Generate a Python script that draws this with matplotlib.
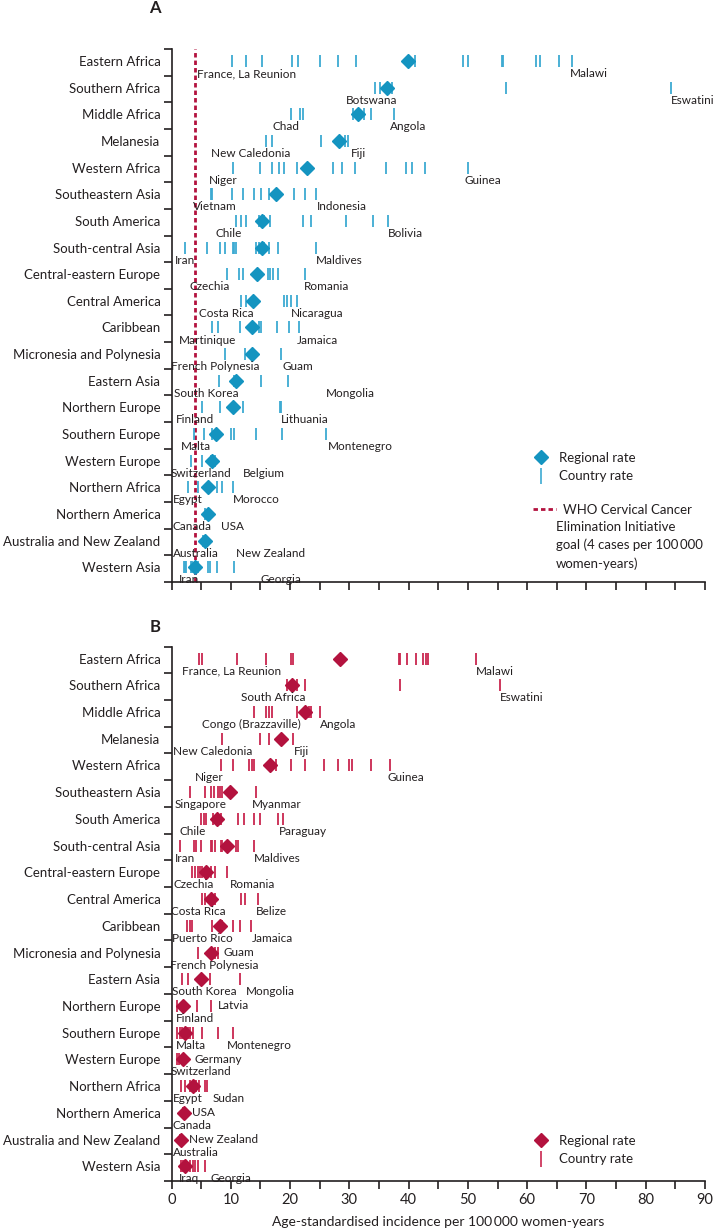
import matplotlib.pyplot as plt
from matplotlib.lines import Line2D

plt.rcParams['font.family'] = ['Lato', 'DejaVu Sans']

regions = ["Eastern Africa", "Southern Africa", "Middle Africa", "Melanesia",
           "Western Africa", "Southeastern Asia", "South America",
           "South-central Asia", "Central-eastern Europe", "Central America",
           "Caribbean", "Micronesia and Polynesia", "Eastern Asia",
           "Northern Europe", "Southern Europe", "Western Europe",
           "Northern Africa", "Northern America", "Australia and New Zealand",
           "Western Asia"]

# panel A: country and regional rates
a_country = [
    [10.2, 12.5, 15.2, 20.4, 21.3, 25.0, 28.1, 31.2, 41.0, 49.1, 50.0, 55.7, 55.9, 61.5, 62.2, 65.3, 67.6],
    [34.3, 35.1, 37.2, 56.5, 84.3],
    [20.1, 21.7, 22.2, 30.7, 32.5, 33.6, 37.5],
    [15.9, 17.0, 25.3, 29.2, 29.8],
    [10.4, 15.0, 16.9, 18.2, 18.9, 21.1, 27.2, 28.8, 31.0, 36.2, 39.5, 40.6, 42.7, 50.0],
    [6.6, 6.8, 10.2, 12.0, 13.9, 15.1, 16.4, 20.7, 22.5, 24.3],
    [10.9, 11.7, 12.5, 14.8, 15.6, 16.7, 22.2, 23.6, 29.4, 34.0, 36.5],
    [2.2, 6.0, 8.2, 9.0, 10.3, 10.5, 10.9, 14.2, 14.8, 15.6, 16.4, 18.0, 24.4],
    [9.3, 11.4, 12.1, 16.2, 16.7, 17.1, 17.9, 22.5],
    [11.7, 12.6, 19.0, 19.5, 20.2, 21.1],
    [6.8, 7.8, 11.5, 14.8, 15.1, 17.8, 19.8, 21.5],
    [9.0, 12.4, 18.5],
    [8.0, 10.5, 11.1, 15.1, 19.6],
    [5.1, 8.2, 12.0, 18.3, 18.5],
    [3.8, 5.4, 6.9, 10.1, 10.6, 14.3, 18.6, 26.1],
    [3.3, 5.1, 6.6, 7.3],
    [2.8, 4.4, 7.6, 8.6, 10.4],
    [5.7, 6.4],
    [5.3, 5.9],
    [2.1, 2.3, 2.5, 3.3, 3.5, 4.4, 6.2, 6.5, 7.7, 10.6],
]
a_regional = [39.9, 36.3, 31.5, 28.2, 22.8, 17.7, 15.3, 15.2, 14.4, 13.8,
              13.6, 13.5, 10.8, 10.4, 7.5, 6.9, 6.2, 6.1, 5.6, 4.0]
a_low = ["France, La Reunion", "Botswana", "Chad", "New Caledonia", "Niger",
         "Vietnam", "Chile", "Iran", "Czechia", "Costa Rica", "Martinique",
         "French Polynesia", "South Korea", "Finland", "Malta", "Switzerland",
         "Egypt", "Canada", "Australia", "Iran"]
a_high = ["Malawi", "Eswatini", "Angola", "Fiji", "Guinea", "Indonesia",
          "Bolivia", "Maldives", "Romania", "Nicaragua", "Jamaica", "Guam",
          "Mongolia", "Lithuania", "Montenegro", "Belgium", "Morocco", "USA",
          "New Zealand", "Georgia"]

# panel B: country and regional rates
b_country = [
    [4.7, 5.1, 11.1, 15.9, 20.1, 20.5, 38.4, 38.6, 39.8, 41.2, 42.5, 42.9, 43.3, 51.3],
    [19.5, 21.1, 22.5, 38.6, 55.4],
    [14.0, 15.9, 16.4, 16.9, 21.2, 23.2, 23.6, 25.0],
    [8.5, 14.9, 16.4, 20.5],
    [8.4, 10.4, 13.1, 13.5, 14.0, 17.6, 20.1, 22.5, 25.8, 28.1, 30.0, 30.4, 33.6, 36.9],
    [3.2, 5.6, 6.6, 7.2, 7.8, 8.2, 8.5, 14.2],
    [5.0, 5.4, 5.8, 7.0, 8.4, 11.3, 12.3, 13.9, 15.0, 17.9, 18.8],
    [1.4, 3.8, 4.1, 5.0, 6.6, 6.9, 7.4, 8.4, 8.6, 10.9, 11.2, 13.9],
    [3.4, 3.9, 4.5, 4.8, 5.2, 6.6, 7.3, 9.4],
    [5.2, 5.6, 7.4, 11.7, 12.4, 14.6],
    [2.6, 3.1, 3.5, 6.8, 8.6, 10.4, 11.6, 13.4],
    [4.4, 7.4, 7.8],
    [1.7, 2.8, 6.5, 11.5],
    [1.0, 4.3, 6.7],
    [1.0, 1.4, 1.7, 2.8, 3.2, 3.6, 5.1, 7.8, 10.4],
    [1.0, 1.3],
    [1.6, 2.3, 3.2, 4.2, 4.6, 5.6, 6.0],
    [1.9, 2.3],
    [1.4, 1.8],
    [1.6, 1.9, 2.2, 3.2, 3.6, 3.9, 4.4, 5.7],
]
b_regional = [28.5, 20.4, 22.5, 18.5, 16.6, 9.9, 7.6, 9.4, 5.9, 6.7,
              8.2, 6.6, 4.9, 2.0, 2.2, 1.9, 3.6, 2.1, 1.6, 2.2]
b_low = ["France, La Reunion", "South Africa", "Congo (Brazzaville)",
         "New Caledonia", "Niger", "Singapore", "Chile", "Iran", "Czechia",
         "Costa Rica", "Puerto Rico", "French Polynesia", "South Korea",
         "Finland", "Malta", "Switzerland", "Egypt", "Canada", "Australia",
         "Iraq"]
b_high = ["Malawi", "Eswatini", "Angola", "Fiji", "Guinea", "Myanmar",
          "Paraguay", "Maldives", "Romania", "Belize", "Jamaica", "Guam",
          "Mongolia", "Latvia", "Montenegro", "Germany", "Sudan", "USA",
          "New Zealand", "Georgia"]

goal = 4

# label layout (x positions in data units)
a_low_x = [12.7, 33.8, 19.3, 13.3, 8.8, 7.3, 9.6, 2.2, 6.4, 9.3, 6.0, 7.3,
           5.9, 4.0, 4.1, 5.0, 2.8, 3.4, 4.2, 2.9]
a_high_x = [67.2, 84.3, 36.9, 30.2, 49.4, 24.5, 36.5, 24.3, 22.3, 20.2, 21.1,
            18.8, 26.0, 18.5, 26.4, 12.1, 10.4, 8.3, 10.8, 15.0]
b_low_x = [10.1, 17.2, 13.5, 6.9, 6.3, 4.9, 3.5, 2.2, 3.8, 4.6, 5.2, 7.2,
           5.5, 4.0, 3.2, 5.0, 2.8, 3.4, 4.2, 2.9]
b_high_x = [51.3, 55.4, 25.1, 20.6, 36.5, 13.5, 18.1, 13.9, 9.8, 14.3, 13.6,
            8.8, 12.6, 7.9, 9.4, 3.8, 6.9, 3.4, 3.0, 6.6]
b_inline = [11, 13, 15, 17, 18]

blue_d, blue_t = '#1494c0', '#3daad2'
red_d, red_t = '#b3123e', '#c9264f'
txt = '#231f20'

W, H = 713, 1230
fig = plt.figure(figsize=(W / 100, H / 100), dpi=100)
axA = fig.add_axes([171.5 / W, 1 - 582 / H, (705 - 171.5) / W, (582 - 49) / H])
axB = fig.add_axes([171.5 / W, 1 - 1181 / H, (705 - 171.5) / W, (1181 - 646.5) / H])


def draw_panel(ax, country, regional, low, low_x, high, high_x, inline, ct, dc):
    for i in range(len(regions)):
        y = i - 0.05
        ax.plot(country[i], [y] * len(country[i]), ls='none', marker='|',
                ms=8.5, mew=1.3, color=ct, zorder=2)
        ax.plot(regional[i], y, ls='none', marker='D', ms=7, color=dc, zorder=3)
        ax.text(low_x[i], i + 0.42, low[i], ha='center', va='center',
                fontsize=8.5, color=txt)
        if i in inline:
            ax.text(high_x[i], y, high[i], ha='left', va='center',
                    fontsize=8.5, color=txt)
        else:
            ax.text(high_x[i], i + 0.42, high[i], ha='left', va='center',
                    fontsize=8.5, color=txt)
    ax.set_xlim(0, 90)
    ax.set_ylim(len(regions) - 0.5, -0.5)
    ax.set_yticks([i - 0.5 for i in range(len(regions) + 1)])
    ax.set_yticklabels([])
    ax.set_yticks([i - 0.05 for i in range(len(regions))], minor=True)
    ax.set_yticklabels(regions, minor=True, fontsize=9.5, color=txt)
    ax.tick_params(axis='y', which='major', length=5.5, width=1.2, color=txt)
    ax.tick_params(axis='y', which='minor', length=0, pad=8)
    ax.set_xticks(range(0, 91, 5))
    ax.tick_params(axis='x', length=5.5, width=1.2, color=txt)
    for s in ['top', 'right']:
        ax.spines[s].set_visible(False)
    for s in ['left', 'bottom']:
        ax.spines[s].set_linewidth(1.2)
        ax.spines[s].set_color(txt)


draw_panel(axA, a_country, a_regional, a_low, a_low_x, a_high, a_high_x, [],
           blue_t, blue_d)
draw_panel(axB, b_country, b_regional, b_low, b_low_x, b_high, b_high_x,
           b_inline, red_t, red_d)

axA.axvline(goal, color=red_d, lw=2, ls=(0, (1.6, 1.1)), zorder=1)
axA.set_xticklabels([])
axB.set_xticklabels([str(v) if v % 10 == 0 else '' for v in range(0, 91, 5)],
                    fontsize=10.5, color=txt)
axB.set_xlabel('Age-standardised incidence per 100\u2009000 women-years',
               fontsize=10, color=txt, labelpad=6)


# legends
def rate_handles(ct, dc):
    return [Line2D([], [], ls='none', marker='D', ms=7, color=dc),
            Line2D([], [], ls='none', marker='|', ms=11, mew=1.2, color=ct)]


legA = axA.legend(rate_handles(blue_t, blue_d), ['Regional rate', 'Country rate'],
                  loc='center left', bbox_to_anchor=(526 / W, 1 - 467 / H),
                  bbox_transform=fig.transFigure, frameon=False, fontsize=9.5,
                  handlelength=1.3, handletextpad=0.7, labelspacing=0.5,
                  borderpad=0, labelcolor=txt)
axA.add_artist(legA)
axA.legend([Line2D([], [], color=red_d, lw=2, ls=(0, (1.6, 1.1)))],
           ['WHO Cervical Cancer'], loc='center left',
           bbox_to_anchor=(526 / W, 1 - 510 / H), bbox_transform=fig.transFigure,
           frameon=False, fontsize=9.5, handlelength=1.8, handletextpad=0.5,
           borderpad=0, labelcolor=txt)
fig.text(556 / W, 1 - 521 / H,
         'Elimination Initiative\ngoal (4 cases per 100\u2009000\nwomen-years)',
         ha='left', va='top', fontsize=9.5, color=txt, linespacing=1.55)

axB.legend(rate_handles(red_t, red_d), ['Regional rate', 'Country rate'],
           loc='center left', bbox_to_anchor=(526 / W, 1 - 1150 / H),
           bbox_transform=fig.transFigure, frameon=False, fontsize=9.5,
           handlelength=1.3, handletextpad=0.7, labelspacing=0.5,
           borderpad=0, labelcolor=txt)

fig.text(155 / W, 1 - 8 / H, 'A', ha='center', va='center', fontsize=12,
         fontweight='bold', color=txt)
fig.text(155 / W, 1 - 627 / H, 'B', ha='center', va='center', fontsize=12,
         fontweight='bold', color=txt)

fig.savefig('out.png', dpi=100)
